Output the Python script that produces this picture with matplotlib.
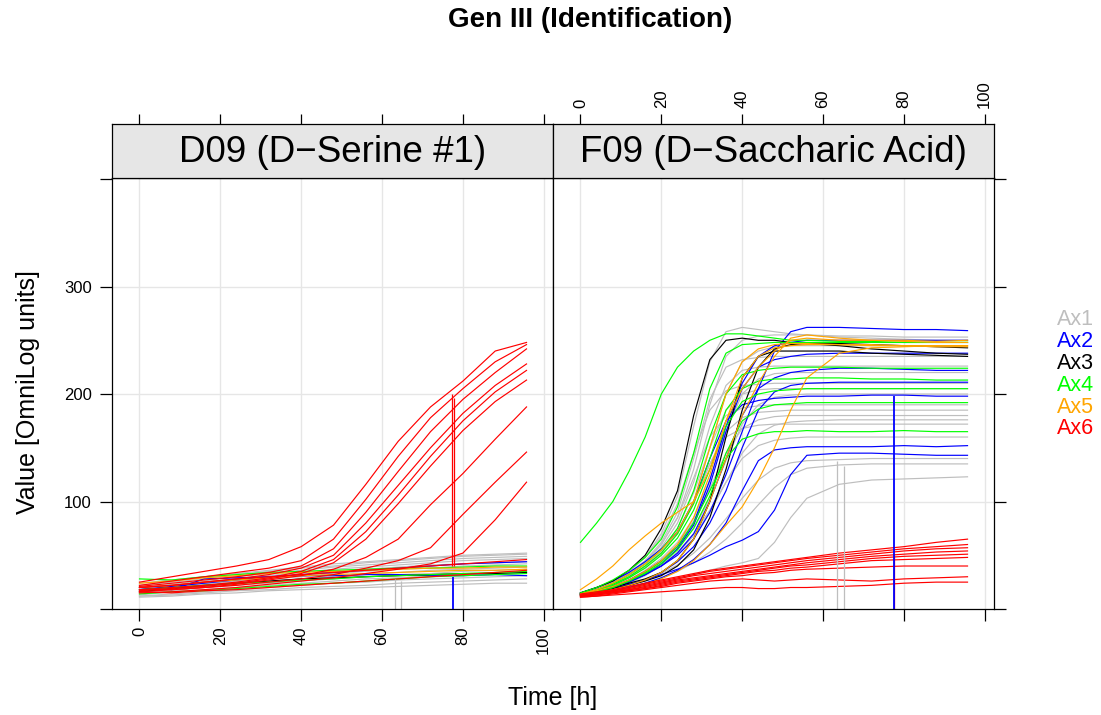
import numpy as np
import matplotlib
matplotlib.use('Agg')
import matplotlib.pyplot as plt

plt.rcParams['font.family'] = ['Liberation Sans', 'DejaVu Sans']

# colours of the six groups (Ax1 .. Ax6)
groups = ['Ax1', 'Ax2', 'Ax3', 'Ax4', 'Ax5', 'Ax6']
group_colors = ['#bebebe', '#0000ff', '#000000', '#00ff00', '#ffa500', '#ff0000']

# ---------------- D09 (D-Serine #1) ----------------
time_d09 = [0, 8, 16, 24, 32, 40, 48, 56, 64, 72, 80, 88, 95.75]

d09_ax1 = [
    [24, 27, 30, 33, 36, 39, 42, 44, 46, 48, 50, 51, 52],
    [22, 25, 28, 32, 35, 38, 40, 43, 45, 47, 49, 50, 51],
    [20, 23, 26, 30, 33, 36, 39, 41, 43, 45, 47, 48, 49],
    [18, 21, 24, 28, 31, 34, 37, 39, 41, 43, 45, 46, 47],
    [17, 20, 23, 26, 29, 32, 35, 37, 39, 41, 42, 43, 44],
    [16, 19, 22, 25, 28, 30, 33, 35, 37, 38, 40, 41, 42],
    [15, 18, 21, 24, 26, 28, 30, 32, 34, 36, 37, 38, 39],
    [14, 17, 20, 22, 24, 26, 28, 30, 32, 33, 35, 36, 37],
    [13, 16, 18, 20, 22, 24, 26, 28, 29, 31, 32, 33, 34],
    [12, 14, 16, 18, 20, 22, 24, 25, 27, 28, 29, 30, 31],
    [12, 13, 15, 17, 18, 20, 21, 22, 24, 25, 26, 27, 28],
    [11, 12, 14, 15, 17, 18, 19, 20, 21, 22, 23, 24, 24],
]
d09_ax2 = [
    [18, 21, 24, 27, 30, 32, 34, 36, 38, 40, 42, 43, 44],
    [20, 18, 28, 29, 30, 31, 31, 32, 32, 31, 31, 32, 31],
]
d09_ax3 = [
    [16, 19, 22, 24, 26, 28, 29, 30, 31, 32, 33, 33, 34],
]
d09_ax4 = [
    [28, 27, 30, 32, 34, 35, 36, 37, 38, 38, 39, 40, 40],
    [18, 20, 22, 24, 25, 27, 28, 30, 31, 32, 33, 34, 35],
    [14, 16, 17, 19, 21, 23, 24, 26, 28, 30, 31, 32, 33],
]
d09_ax5 = [
    [24, 26, 29, 31, 33, 34, 35, 36, 37, 38, 38, 39, 39],
    [20, 22, 25, 27, 29, 31, 32, 33, 34, 35, 36, 36, 37],
]
d09_ax6 = [
    [25, 30, 35, 40, 46, 58, 78, 116, 156, 188, 212, 240, 248],
    [22, 26, 30, 34, 38, 45, 65, 102, 142, 178, 205, 230, 246],
    [21, 24, 27, 30, 34, 40, 56, 90, 128, 165, 195, 220, 242],
    [20, 22, 25, 28, 32, 38, 50, 80, 115, 150, 182, 208, 228],
    [18, 20, 22, 25, 29, 35, 46, 72, 106, 142, 175, 202, 222],
    [17, 19, 21, 24, 28, 33, 43, 65, 98, 133, 166, 193, 213],
    [16, 18, 20, 23, 27, 31, 37, 48, 65, 97, 126, 158, 188],
    [18, 18, 20, 22, 25, 28, 32, 38, 45, 57, 88, 118, 146],
    [15, 16, 18, 20, 23, 26, 29, 33, 37, 42, 52, 83, 118],
    [20, 22, 25, 28, 30, 32, 34, 36, 38, 40, 42, 44, 46],
    [16, 15, 17, 18, 20, 22, 24, 26, 28, 30, 32, 34, 36],
]
# single-reading spikes: time, low, high, group index
d09_spike_t = [63.1, 64.8, 77.5, 77.3, 77.8]
d09_spike_lo = [0, 0, 0, 40, 40]
d09_spike_hi = [28, 26, 30, 200, 196]
d09_spike_g = [0, 0, 1, 5, 5]

# ---------------- F09 (D-Saccharic Acid) ----------------
time_f09 = [0, 4, 8, 12, 16, 20, 24, 28, 32, 36, 40, 44, 48, 52, 56, 64, 72, 80, 88, 95.75]

f09_ax1 = [
    [15, 20, 26, 35, 48, 70, 105, 170, 230, 258, 262, 260, 258, 256, 255, 253, 252, 251, 250, 250],
    [14, 18, 24, 32, 44, 60, 85, 130, 190, 235, 250, 254, 255, 255, 255, 254, 254, 253, 253, 253],
    [14, 17, 22, 29, 39, 52, 70, 100, 150, 200, 230, 240, 244, 245, 245, 245, 245, 245, 245, 245],
    [15, 19, 25, 33, 45, 62, 90, 140, 195, 225, 232, 234, 235, 235, 235, 235, 235, 235, 235, 235],
    [14, 18, 24, 31, 42, 57, 80, 118, 170, 208, 222, 225, 226, 226, 226, 226, 226, 226, 226, 226],
    [13, 16, 21, 27, 36, 47, 62, 85, 120, 165, 200, 214, 219, 220, 220, 220, 220, 220, 220, 220],
    [15, 20, 26, 35, 48, 67, 98, 145, 185, 203, 208, 209, 210, 210, 210, 210, 210, 210, 210, 210],
    [14, 18, 23, 30, 40, 54, 75, 108, 150, 185, 200, 204, 205, 205, 205, 205, 205, 205, 205, 205],
    [13, 16, 20, 25, 33, 43, 56, 75, 102, 138, 172, 190, 197, 199, 200, 200, 200, 200, 200, 200],
    [15, 19, 25, 33, 44, 60, 85, 122, 160, 180, 187, 189, 190, 190, 190, 190, 190, 190, 190, 190],
    [14, 17, 22, 29, 39, 52, 70, 98, 135, 165, 178, 183, 184, 185, 185, 185, 185, 185, 185, 185],
    [13, 16, 20, 26, 34, 45, 60, 82, 112, 145, 168, 176, 179, 180, 180, 180, 180, 180, 180, 180],
    [13, 15, 19, 24, 31, 40, 52, 68, 90, 118, 145, 163, 171, 174, 175, 176, 176, 176, 176, 176],
    [14, 18, 23, 30, 40, 53, 72, 100, 135, 160, 168, 171, 172, 172, 172, 172, 172, 172, 172, 172],
    [13, 16, 20, 25, 32, 41, 53, 70, 92, 118, 140, 152, 157, 159, 160, 160, 160, 160, 160, 160],
    [13, 15, 18, 22, 27, 33, 41, 52, 66, 84, 103, 120, 131, 136, 138, 139, 140, 140, 140, 140],
    [13, 15, 17, 20, 24, 29, 35, 43, 53, 65, 80, 97, 113, 125, 131, 134, 135, 135, 135, 135],
    [12, 14, 16, 18, 21, 24, 28, 32, 36, 40, 43, 47, 62, 85, 103, 116, 120, 121, 122, 123],
]
f09_ax2 = [
    [14, 17, 21, 26, 32, 40, 50, 65, 90, 125, 165, 205, 240, 258, 262, 262, 261, 260, 260, 259],
    [14, 17, 21, 27, 35, 45, 58, 80, 120, 170, 210, 235, 245, 248, 250, 250, 250, 250, 250, 250],
    [14, 17, 20, 25, 32, 42, 56, 78, 115, 165, 205, 225, 232, 235, 237, 238, 238, 238, 238, 238],
    [13, 16, 20, 25, 32, 40, 52, 70, 100, 140, 180, 205, 215, 220, 222, 224, 224, 223, 222, 222],
    [13, 15, 18, 22, 27, 34, 44, 58, 80, 110, 150, 185, 202, 208, 210, 211, 211, 211, 211, 211],
    [15, 20, 26, 34, 44, 56, 72, 100, 140, 175, 190, 194, 196, 197, 198, 198, 199, 199, 198, 198],
    [13, 15, 17, 20, 24, 29, 36, 46, 60, 80, 110, 138, 148, 150, 151, 151, 151, 152, 151, 152],
    [13, 16, 19, 23, 27, 32, 37, 43, 50, 58, 64, 72, 92, 125, 143, 145, 145, 144, 143, 143],
]
f09_ax3 = [
    [15, 20, 26, 36, 50, 75, 110, 180, 232, 250, 252, 250, 250, 248, 247, 245, 242, 240, 238, 237],
    [14, 17, 20, 24, 28, 34, 45, 65, 100, 160, 215, 235, 240, 240, 240, 240, 238, 237, 236, 235],
    [14, 16, 19, 22, 26, 31, 40, 55, 85, 130, 185, 225, 242, 246, 247, 247, 246, 245, 244, 243],
]
f09_ax4 = [
    [62, 80, 100, 128, 160, 200, 225, 240, 250, 256, 256, 254, 252, 250, 250, 249, 249, 248, 248, 248],
    [15, 20, 27, 36, 48, 65, 95, 145, 205, 238, 246, 247, 248, 248, 248, 248, 248, 248, 248, 248],
    [14, 18, 24, 32, 42, 55, 75, 110, 160, 200, 218, 222, 224, 225, 225, 225, 224, 224, 224, 224],
    [14, 18, 23, 30, 40, 52, 70, 98, 140, 185, 205, 212, 214, 214, 215, 215, 214, 214, 213, 213],
    [14, 17, 22, 29, 38, 50, 66, 92, 130, 170, 193, 200, 203, 204, 205, 205, 205, 205, 205, 205],
    [13, 16, 20, 26, 33, 42, 55, 75, 105, 145, 175, 186, 190, 191, 192, 192, 192, 192, 192, 192],
    [13, 16, 20, 26, 34, 44, 58, 80, 110, 140, 158, 163, 165, 165, 166, 165, 165, 166, 165, 165],
]
f09_ax5 = [
    [18, 28, 40, 55, 68, 80, 90, 100, 130, 175, 205, 225, 240, 250, 252, 250, 250, 249, 248, 248],
    [14, 18, 24, 32, 42, 55, 72, 100, 150, 200, 230, 242, 246, 247, 247, 246, 246, 245, 245, 245],
    [14, 17, 21, 27, 35, 45, 60, 85, 125, 175, 215, 235, 243, 245, 246, 246, 245, 245, 244, 244],
    [13, 15, 18, 22, 27, 34, 45, 65, 100, 140, 180, 210, 235, 252, 255, 252, 250, 250, 249, 250],
    [13, 14, 16, 19, 23, 28, 35, 45, 60, 78, 95, 120, 150, 185, 215, 238, 243, 244, 245, 245],
]
f09_ax6 = [
    [14, 16, 18, 21, 24, 27, 30, 33, 36, 38, 40, 42, 44, 46, 48, 52, 55, 58, 62, 65],
    [13, 15, 17, 20, 23, 26, 29, 32, 35, 37, 39, 41, 43, 45, 47, 50, 53, 56, 58, 60],
    [13, 15, 17, 19, 22, 25, 28, 31, 33, 35, 37, 39, 41, 43, 45, 48, 51, 54, 56, 57],
    [12, 14, 16, 18, 21, 24, 27, 29, 31, 33, 35, 37, 39, 41, 43, 46, 49, 51, 53, 54],
    [12, 14, 16, 18, 20, 23, 26, 28, 30, 32, 34, 36, 38, 40, 41, 44, 47, 49, 50, 51],
    [12, 13, 15, 17, 19, 22, 25, 27, 29, 31, 33, 35, 36, 38, 39, 42, 45, 46, 47, 48],
    [12, 13, 15, 17, 19, 21, 24, 26, 28, 30, 31, 33, 34, 36, 37, 38, 39, 40, 40, 40],
    [11, 12, 14, 16, 18, 20, 22, 24, 26, 27, 28, 27, 26, 27, 28, 27, 26, 28, 29, 30],
    [11, 12, 13, 14, 15, 16, 17, 18, 19, 20, 20, 19, 19, 20, 20, 21, 22, 24, 25, 25],
]
f09_spike_t = [63.5, 65.2, 77.5, 77.5]
f09_spike_lo = [0, 0, 0, 0]
f09_spike_hi = [138, 133, 50, 198]
f09_spike_g = [0, 0, 5, 1]

panels = [
    ('D09 (D\u2212Serine #1)', time_d09, [d09_ax1, d09_ax2, d09_ax3, d09_ax4, d09_ax5, d09_ax6],
     (d09_spike_t, d09_spike_lo, d09_spike_hi, d09_spike_g)),
    ('F09 (D\u2212Saccharic Acid)', time_f09, [f09_ax1, f09_ax2, f09_ax3, f09_ax4, f09_ax5, f09_ax6],
     (f09_spike_t, f09_spike_lo, f09_spike_hi, f09_spike_g)),
]

W, H = 1101, 715
fig = plt.figure(figsize=(W / 100, H / 100), dpi=100)

xticks = [0, 20, 40, 60, 80, 100]
yticks = [0, 100, 200, 300, 400]
xlim = (-6.8, 102.3)
ylim = (0, 401)
lw_frame = 0.9

for i, (name, tt, curves, spikes) in enumerate(panels):
    left = 112 + i * 441
    ax = fig.add_axes([left / W, 1 - 609 / H, 441 / W, 431 / H])
    st = fig.add_axes([left / W, 1 - 178 / H, 441 / W, 54 / H])

    # grid
    for x in xticks:
        ax.axvline(x, color='#e6e6e6', lw=1, zorder=0)
    for y in yticks[1:-1]:
        ax.axhline(y, color='#e6e6e6', lw=1, zorder=0)

    for g, grp in enumerate(curves):
        for vals in grp:
            ax.plot(tt, vals, color=group_colors[g], lw=0.85)
    sp_t, sp_lo, sp_hi, sp_g = spikes
    for t, lo, hi, g in zip(sp_t, sp_lo, sp_hi, sp_g):
        ax.vlines(t, lo, hi, color=group_colors[g], lw=1.3 if g == 1 else 0.9)

    ax.set_xlim(*xlim)
    ax.set_ylim(*ylim)
    ax.set_xticks(xticks)
    ax.set_yticks(yticks)
    ax.tick_params(direction='out', length=8.5, width=lw_frame, labelsize=12)
    ax.tick_params(axis='x', labelrotation=90, pad=4)
    ax.tick_params(axis='y', pad=6)
    if i == 0:
        ax.tick_params(axis='y', left=True, right=False, labelleft=True)
        ax.set_yticklabels(['', '100', '200', '300', ''])
        ax.tick_params(axis='x', bottom=True, labelbottom=True)
    else:
        ax.tick_params(axis='y', left=False, right=True, labelleft=False, labelright=False)
        ax.tick_params(axis='x', bottom=True, labelbottom=False)
    for s in ax.spines.values():
        s.set_linewidth(lw_frame)

    # strip
    st.set_facecolor('#e6e6e6')
    st.set_xlim(*xlim)
    st.set_ylim(0, 1)
    st.set_yticks([])
    st.set_xticks(xticks)
    st.tick_params(axis='x', direction='out', length=7.5, width=lw_frame, labelsize=12,
                   top=True, bottom=False, labelbottom=False, labeltop=(i == 1),
                   labelrotation=90, pad=4)
    for s in st.spines.values():
        s.set_linewidth(lw_frame)
    st.text(0.5, 0.47, name, transform=st.transAxes, ha='center', va='center', fontsize=26.5)

fig.text(590 / W, 1 - 20 / H, 'Gen III (Identification)', ha='center', va='center',
         fontsize=20, fontweight='bold')
fig.text(553 / W, 1 - 698 / H, 'Time [h]', ha='center', va='center', fontsize=18)
fig.text(28 / W, 1 - 392 / H, 'Value [OmniLog units]', ha='center', va='center',
         rotation=90, fontsize=18)

for k, (lab, col) in enumerate(zip(groups, group_colors)):
    fig.text(1057 / W, 1 - (320 + 21.8 * k) / H, lab, color=col, ha='left', va='center',
             fontsize=15.5)

fig.savefig('out.png', dpi=100)
